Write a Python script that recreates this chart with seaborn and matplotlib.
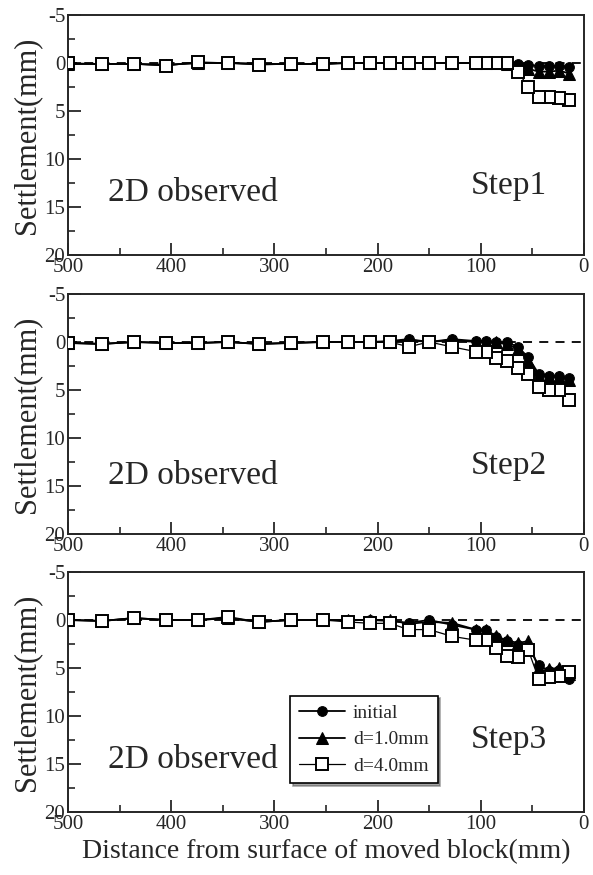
import matplotlib
matplotlib.use("Agg")
import matplotlib.pyplot as plt
import seaborn as sns
import numpy as np
import pandas as pd
from matplotlib.ticker import MultipleLocator

# ---------------- data ----------------
distance = [500, 467, 436, 405, 374, 345, 315, 284, 253, 229, 207, 188, 170,
            150, 128, 105, 95, 85, 75, 64, 54, 44, 34, 24, 14]

step1_initial = [0.1, 0.1, 0.1, 0.2, 0.0, 0.0, 0.1, 0.1, 0.1, 0.0, 0.0, 0.0, 0.0,
                 0.0, 0.0, 0.0, 0.0, 0.0, 0.0, 0.1, 0.2, 0.3, 0.3, 0.3, 0.4]
step1_d1 = [0.1, 0.1, 0.1, 0.2, 0.0, 0.0, 0.1, 0.1, 0.1, 0.0, 0.0, 0.0, 0.0,
            0.0, 0.0, 0.0, 0.0, 0.0, 0.1, 0.3, 0.6, 0.9, 0.9, 0.8, 1.1]
step1_d4 = [0.0, 0.1, 0.1, 0.3, -0.1, 0.0, 0.2, 0.1, 0.1, 0.0, 0.0, 0.0, 0.0,
            0.0, 0.0, 0.0, 0.0, 0.0, 0.0, 0.9, 2.5, 3.5, 3.5, 3.7, 3.9]

step2_initial = [0.1, 0.2, 0.0, 0.1, 0.1, 0.0, 0.2, 0.1, 0.0, 0.0, 0.0, -0.1, -0.3,
                 0.0, -0.3, -0.1, -0.1, 0.0, 0.0, 0.5, 1.6, 3.3, 3.5, 3.5, 3.8]
step2_d1 = [0.1, 0.2, 0.0, 0.1, 0.1, 0.0, 0.2, 0.1, 0.0, 0.0, 0.0, 0.0, -0.2,
            0.0, -0.2, 0.0, 0.0, 0.0, 0.2, 0.7, 2.0, 3.5, 3.6, 3.6, 4.0]
step2_d4 = [0.1, 0.2, 0.0, 0.1, 0.1, 0.0, 0.2, 0.1, 0.0, 0.0, 0.0, 0.0, 0.5,
            0.0, 0.5, 1.0, 1.0, 1.7, 2.0, 2.7, 3.3, 4.7, 5.0, 5.0, 6.0]

step3_initial = [0.0, 0.1, -0.2, 0.0, 0.0, -0.2, 0.2, 0.0, 0.0, 0.0, 0.0, 0.1, 0.3,
                 0.0, 0.5, 1.0, 1.0, 1.8, 2.2, 2.6, 2.8, 4.7, 5.3, 5.2, 6.1]
step3_d1 = [0.0, 0.1, -0.2, 0.0, 0.0, -0.2, 0.2, 0.0, 0.0, 0.0, 0.0, 0.0, 0.4,
            0.2, 0.3, 1.0, 1.0, 1.7, 2.1, 2.4, 2.2, 5.0, 5.1, 5.0, 5.6]
step3_d4 = [0.0, 0.1, -0.2, 0.0, 0.0, -0.35, 0.2, 0.0, 0.0, 0.2, 0.35, 0.35, 1.0,
            1.0, 1.7, 2.1, 2.1, 2.9, 3.8, 3.9, 3.1, 6.1, 5.9, 5.8, 5.4]

step_labels = ["Step1", "Step2", "Step3"]
series_labels = ["initial", "d=1.0mm", "d=4.0mm"]
x_ticks = [500, 400, 300, 200, 100, 0]
y_ticks = [-5, 0, 5, 10, 15, 20]

steps = [
    (step1_initial, step1_d1, step1_d4),
    (step2_initial, step2_d1, step2_d4),
    (step3_initial, step3_d1, step3_d4),
]

# ---------------- style ----------------
sns.set_style("ticks")
plt.rcParams["font.family"] = ["Liberation Serif", "DejaVu Serif"]
plt.rcParams["axes.linewidth"] = 1.4
plt.rcParams["axes.unicode_minus"] = False

fig = plt.figure(figsize=(5.93, 8.75), dpi=100)
bottoms = [0.7086, 0.3897, 0.072]
left, width, height = 0.1147, 0.870, 0.2743

marker_styles = [
    dict(marker="o", markersize=7, markerfacecolor="black", markeredgecolor="black",
         color="black", linewidth=1.3),
    dict(marker="^", markersize=8, markerfacecolor="black", markeredgecolor="black",
         color="black", linewidth=1.3),
    dict(marker="s", markersize=9, markerfacecolor="white", markeredgecolor="black",
         markeredgewidth=1.4, color="black", linewidth=0.9),
]

step_text_y = [0.29, 0.285, 0.30]
obs_text_y = [0.26, 0.243, 0.217]

for i, (vals, b) in enumerate(zip(steps, bottoms)):
    ax = fig.add_axes([left, b, width, height])
    ax.axhline(0, color="black", linestyle=(0, (5, 4)), linewidth=1.3, zorder=1)
    for j, (v, lab) in enumerate(zip(vals, series_labels)):
        df = pd.DataFrame({"distance": distance, "settlement": v})
        sns.lineplot(data=df, x="distance", y="settlement", ax=ax, label=lab,
                     zorder=2 + j, **marker_styles[j])
    ax.set_xlim(500, 0)
    ax.set_ylim(20, -5)
    ax.set_xticks(x_ticks)
    ax.set_yticks(y_ticks)
    ax.xaxis.set_minor_locator(MultipleLocator(50))
    ax.yaxis.set_minor_locator(MultipleLocator(2.5))
    ax.tick_params(axis="both", which="major", direction="in", length=9, width=1.3,
                   labelsize=15, pad=2)
    ax.tick_params(axis="both", which="minor", direction="in", length=5, width=1.2)
    ax.set_ylabel("Settlement(mm)", fontsize=22, labelpad=2)
    if i == 2:
        ax.set_xlabel("Distance from surface of moved block(mm)", fontsize=20, labelpad=4)
    else:
        ax.set_xlabel("")
    ax.text(0.078, obs_text_y[i], "2D observed", transform=ax.transAxes,
            fontsize=24, va="center", ha="left")
    ax.text(0.78, step_text_y[i], step_labels[i], transform=ax.transAxes,
            fontsize=24, va="center", ha="left")
    if i == 2:
        leg = ax.legend(loc="upper left", bbox_to_anchor=(0.43, 0.485), fontsize=14,
                        frameon=True, fancybox=False, shadow=True, edgecolor="black",
                        framealpha=1, handlelength=2.4, labelspacing=0.45,
                        borderpad=0.45, handletextpad=0.4, borderaxespad=0)
        leg.get_frame().set_linewidth(1.2)
    else:
        ax.get_legend().remove()

fig.savefig("out.png", dpi=100)
